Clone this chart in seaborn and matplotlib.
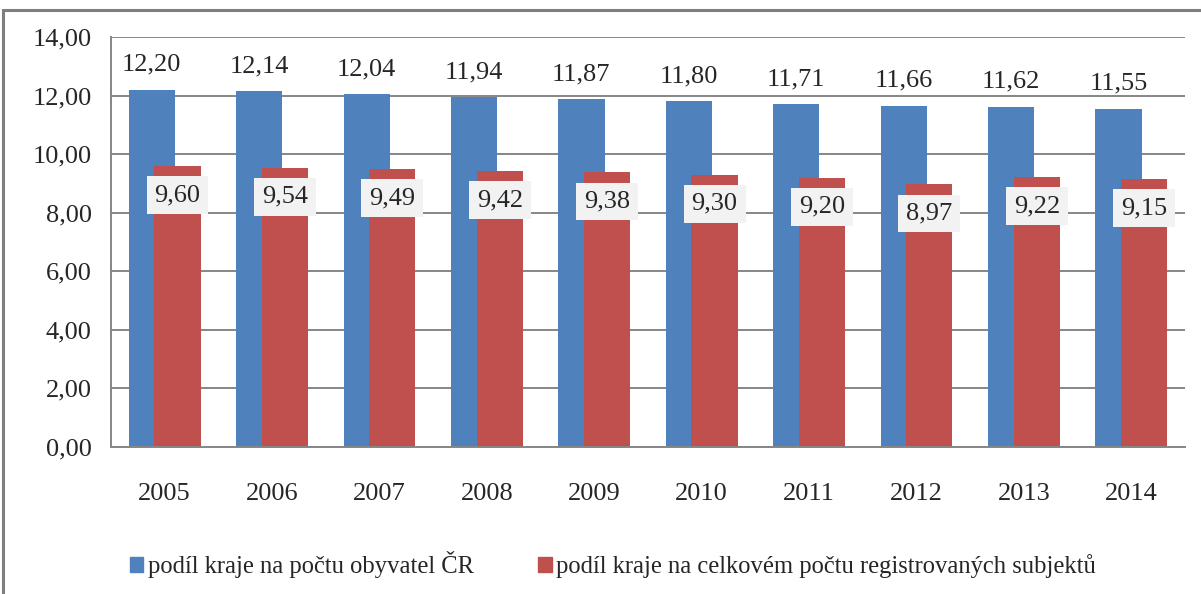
import matplotlib
matplotlib.use('Agg')
import matplotlib.pyplot as plt
import matplotlib.patches as mpatches
from matplotlib.ticker import FuncFormatter, MultipleLocator
import seaborn as sns
import pandas as pd

# data
years = ['2005', '2006', '2007', '2008', '2009', '2010', '2011', '2012', '2013', '2014']
obyvatel = [12.20, 12.14, 12.04, 11.94, 11.87, 11.80, 11.71, 11.66, 11.62, 11.55]
subjekty = [9.60, 9.54, 9.49, 9.42, 9.38, 9.30, 9.20, 8.97, 9.22, 9.15]
names = ['podíl kraje na počtu obyvatel ČR',
         'podíl kraje na celkovém počtu registrovaných subjektů']

df = pd.DataFrame({'rok': years, 'obyv': obyvatel, 'subj': subjekty})

sns.set_style('white')
plt.rcParams['font.family'] = ['Liberation Serif', 'DejaVu Serif']

blue = '#4F81BD'
red = '#C0504D'
grid = '#868686'
fs = 19

fig = plt.figure(figsize=(12.01, 5.94), dpi=100)
ax = fig.add_axes([0.0924, 0.2475, 0.8943, 0.6902])

bw = 0.43
shift = 0.12
sns.barplot(data=df, x='rok', y='obyv', color=blue, saturation=1, width=bw, ax=ax)
n = len(ax.patches)
sns.barplot(data=df, x='rok', y='subj', color=red, saturation=1, width=bw, ax=ax)

# overlapping bars: blue shifted left, red shifted right
for i, p in enumerate(ax.patches):
    p.set_x(p.get_x() + (-shift if i < n else shift))
    p.set_edgecolor('none')

for i, p in enumerate(ax.patches):
    cx = p.get_x() + p.get_width() / 2
    v = p.get_height()
    txt = f'{v:.2f}'.replace('.', ',')
    if i < n:
        ax.annotate(txt, (cx, v), xytext=(0, 18), textcoords='offset points',
                    ha='center', va='center', fontsize=fs)
    else:
        ax.annotate(txt, (cx, v), xytext=(0, -21), textcoords='offset points',
                    ha='center', va='center', fontsize=fs, zorder=5,
                    bbox=dict(boxstyle='square,pad=0.3', fc='#F2F2F2', ec='none'))

ax.set_xlim(-0.5, 9.5)
ax.set_ylim(0, 14)
ax.yaxis.set_major_locator(MultipleLocator(2))
ax.yaxis.set_major_formatter(FuncFormatter(lambda v, _: f'{v:.2f}'.replace('.', ',')))
ax.set_xlabel('')
ax.set_ylabel('')
ax.yaxis.grid(True, color=grid, lw=1.4)
ax.set_axisbelow(True)
ax.tick_params(axis='both', length=0, labelsize=fs)
ax.tick_params(axis='y', pad=14)
ax.tick_params(axis='x', pad=26)
for s in ['top', 'right']:
    ax.spines[s].set_visible(False)
for s in ['left', 'bottom']:
    ax.spines[s].set_color(grid)
    ax.spines[s].set_linewidth(1.4)

handles = [mpatches.Patch(color=blue), mpatches.Patch(color=red)]
fig.legend(handles, names, loc='center', bbox_to_anchor=(613 / 1201, 1 - 565 / 594),
           ncol=2, frameon=False, fontsize=17.7, handlelength=0.55, handleheight=0.55,
           handletextpad=0.2, columnspacing=2.6)

# outer chart frame, cut off at the right and bottom
fig.patches.append(mpatches.Rectangle((3 / 1201, -0.1), 1.2, 1 - 10 / 594 + 0.1,
                                      transform=fig.transFigure, fill=False,
                                      ec='#7F7F7F', lw=2.2))

fig.savefig('out.png', dpi=100)
